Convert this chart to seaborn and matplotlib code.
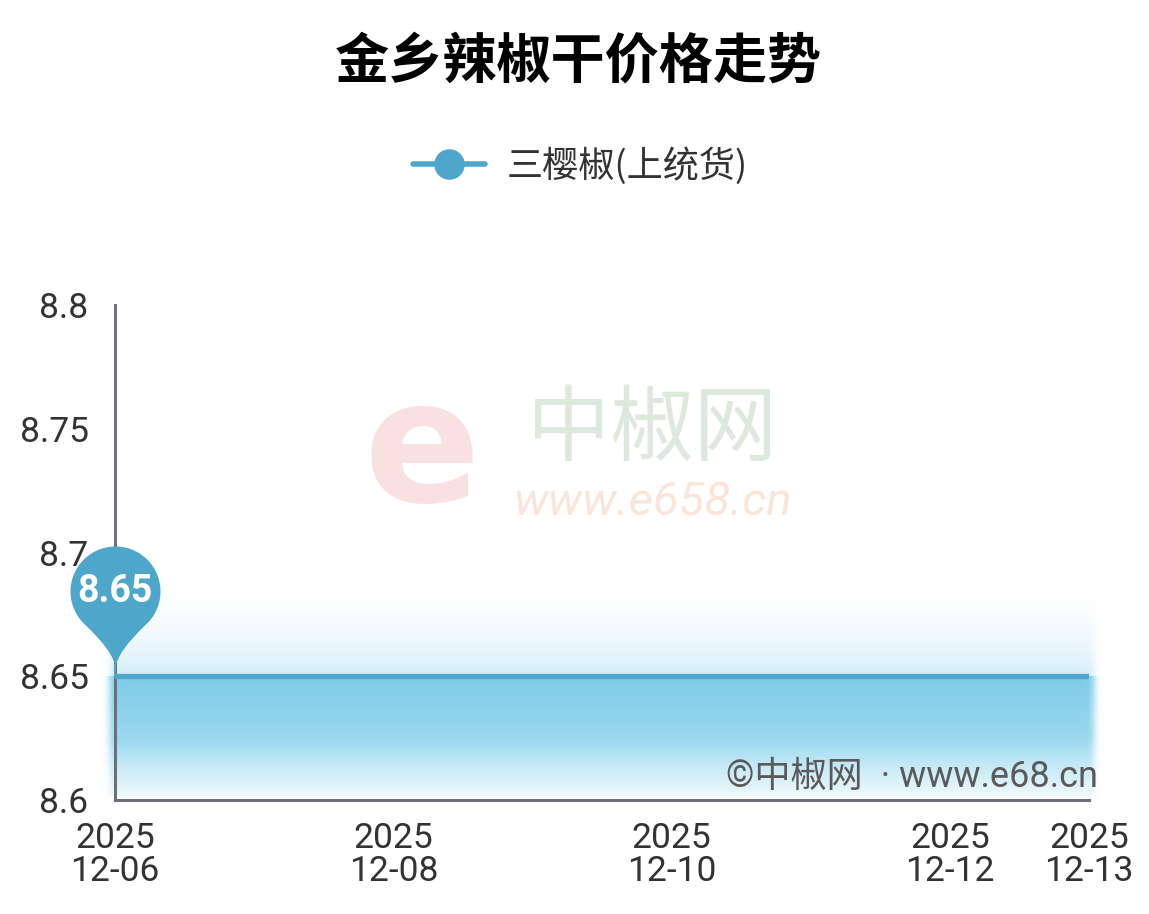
import numpy as np
import pandas as pd
import matplotlib
matplotlib.use("Agg")
import matplotlib.pyplot as plt
import matplotlib.dates as mdates
from matplotlib.path import Path
from matplotlib.lines import Line2D
from math import erf
import seaborn as sns

# ---------------- data ----------------
dates = ["2025-12-06", "2025-12-07", "2025-12-08", "2025-12-09",
         "2025-12-10", "2025-12-11", "2025-12-12", "2025-12-13"]
prices = [8.65, 8.65, 8.65, 8.65, 8.65, 8.65, 8.65, 8.65]
series_name = "三樱椒(上统货)"
title = "金乡辣椒干价格走势"
xtick_dates = ["2025-12-06", "2025-12-08", "2025-12-10", "2025-12-12", "2025-12-13"]
xtick_labels = ["2025\n12-06", "2025\n12-08", "2025\n12-10", "2025\n12-12", "2025\n12-13"]
ytick_values = [8.6, 8.65, 8.7, 8.75, 8.8]
ytick_labels = ["8.6", "8.65", "8.7", "8.75", "8.8"]

sns.set_theme(style="white")
plt.rcParams['font.family'] = ['Roboto', 'Noto Sans CJK SC', 'DejaVu Sans']

LINE_C = "#4ea6cb"
AXIS_C = "#6e7079"
TEXT_C = "#333333"

df = pd.DataFrame({"date": pd.to_datetime(dates), "price": prices})

fig = plt.figure(figsize=(11.49, 9.14), dpi=100)
ax = fig.add_axes([115/1149, 1-800/914, (1089-115)/1149, (800-305)/914])

ax.set_ylim(8.6, 8.8)
x0 = mdates.date2num(df["date"].iloc[0])
x1 = mdates.date2num(df["date"].iloc[-1])
ax.set_xlim(x0, x1)

# ---- gradient / glow area under the line ----
px_per_day = 974 / (x1 - x0)
px_per_unit = 495 / 0.2
ext_x0 = x0 - 14 / px_per_day
ext_x1 = x1 + 14 / px_per_day
ytop = 8.65 + 95 / px_per_unit
nx, ny = 700, 300
xs = np.linspace(ext_x0, ext_x1, nx)
ys = np.linspace(ytop, 8.6, ny)
line_y = df["price"].iloc[0]
d = (line_y - ys) * px_per_unit  # px below line (positive downward)
above = np.clip(1 + d / 90.0, 0, 1)
a_above = 0.32 * above ** 1.8
bot_d = (ys - 8.6) * px_per_unit  # px above the bottom
fade_bot = np.clip(bot_d / 60.0, 0, 1) ** 0.9
a_below = (0.97 - 0.25 * np.clip(d / 125.0, 0, 1)) * (0.15 + 0.85 * fade_bot)
a_below = np.where(bot_d < 4, a_below * np.clip(bot_d / 4, 0, 1), a_below)
a_v = np.where(d < 0, a_above, a_below)
# horizontal edges
xpx = (xs - x0) * px_per_day
xpx_r = (x1 - xs) * px_per_day
verf = np.vectorize(erf)
a_h = 0.5 * (1 + verf((xpx + 6) / 5.0)) * 0.5 * (1 + verf((xpx_r + 5) / 5.0))
alpha = np.outer(a_v, a_h)
top_rgb = np.array([0.47, 0.79, 0.91])
bot_rgb = np.array([0.60, 0.85, 0.94])
t = np.clip(d / 125.0, 0, 1)[:, None]
rgb = top_rgb * (1 - t) + bot_rgb * t
img = np.zeros((ny, nx, 4))
img[..., :3] = rgb[:, None, :] * np.ones((1, nx, 1))
img[..., 3] = alpha
ax.imshow(img, extent=[ext_x0, ext_x1, 8.6, ytop], aspect="auto",
          origin="upper", zorder=1, clip_on=False, interpolation="bilinear")

# ---- line ----
sns.lineplot(data=df, x="date", y="price", ax=ax, color=LINE_C,
             linewidth=3.8, zorder=3, legend=False)
ax.set_xlim(x0, x1)
ax.set_ylim(8.6, 8.8)

# ---- pin marker ----
R = 45.0
cy = 76.0
verts = []
codes = []
left_pt = (R * np.cos(np.deg2rad(228)), cy + R * np.sin(np.deg2rad(228)))
verts.append((0, 0)); codes.append(Path.MOVETO)
verts.append((-2, 16)); codes.append(Path.CURVE3)
verts.append(left_pt); codes.append(Path.CURVE3)
for a in np.linspace(np.deg2rad(228), np.deg2rad(-48), 90)[1:]:
    verts.append((R * np.cos(a), cy + R * np.sin(a))); codes.append(Path.LINETO)
verts.append((2, 16)); codes.append(Path.CURVE3)
verts.append((0, 0)); codes.append(Path.CURVE3)
verts.append((0, 0)); codes.append(Path.CLOSEPOLY)
pin = Path(np.array(verts), codes)
rescale = cy + R
ms = 2 * rescale * 72 / 100
tip_y = line_y + 9 / px_per_unit
ax.plot([df["date"].iloc[0]], [tip_y], marker=pin,
        markersize=ms, color=LINE_C, markeredgewidth=0, linestyle="none",
        zorder=6, clip_on=False)
ax.plot([df["date"].iloc[0], df["date"].iloc[0]],
        [line_y, tip_y + 2 / px_per_unit], color=LINE_C, lw=1.5,
        zorder=6, clip_on=False)
ax.annotate(f"{prices[0]:.2f}", xy=(df["date"].iloc[0], tip_y),
            xytext=(0, cy * 0.72), textcoords="offset points",
            ha="center", va="center", color="white", fontsize=27,
            fontweight="bold", zorder=7, annotation_clip=False)

# ---- axes styling ----
for s in ["top", "right"]:
    ax.spines[s].set_visible(False)
for s in ["left", "bottom"]:
    ax.spines[s].set_color(AXIS_C)
    ax.spines[s].set_linewidth(2.2)
ax.set_yticks(ytick_values)
ax.set_yticklabels(ytick_labels)
ax.set_xticks(pd.to_datetime(xtick_dates))
ax.set_xticklabels(xtick_labels, linespacing=1.0)
ax.tick_params(axis="y", length=13, width=2.2, color=AXIS_C, pad=6,
               labelsize=25.5, labelcolor=TEXT_C)
ax.tick_params(axis="x", length=11, width=2.2, color=AXIS_C, pad=5,
               labelsize=25.5, labelcolor=TEXT_C)
ax.set_xlabel("")
ax.set_ylabel("")

# ---- watermark ----
fig.text(422 / 1149, 1 - 455 / 914, "e", fontsize=124, fontweight="bold",
         color="#f9e1e1", ha="center", va="center", family="DejaVu Sans",
         zorder=0)
fig.text(652 / 1149, 1 - 430 / 914, "中椒网", fontsize=60, fontweight="medium",
         color="#dde9dc", ha="center", va="center",
         family=["Noto Sans CJK SC"], zorder=0)
fig.text(652 / 1149, 1 - 502 / 914, "www.e658.cn", fontsize=34,
         style="italic", color="#fbe4d8", ha="center", va="center", zorder=0)

# ---- credit ----
fig.text(1098 / 1149, 1 - 777 / 914, "©中椒网  · www.e68.cn", fontsize=26,
         color="#5a5a5a", ha="right", va="center", zorder=8,
         family=["Roboto", "Noto Sans CJK SC", "DejaVu Sans"])

# ---- title ----
fig.text(0.503, 1 - 62 / 914, title, fontsize=39, fontweight=900,
         color="#000000", ha="center", va="center",
         family=["Noto Sans CJK SC"])

# ---- legend ----
handle = Line2D([0], [0], color=LINE_C, lw=4, marker="o", markersize=22,
                markerfacecolor=LINE_C, markeredgewidth=0)
leg = fig.legend([handle], [series_name], loc="center",
                 bbox_to_anchor=(0.505, 1 - 166 / 914), frameon=False,
                 handlelength=2.0, handletextpad=0.6,
                 prop={"family": ["Noto Sans CJK SC"], "size": 26})
for txt in leg.get_texts():
    txt.set_color(TEXT_C)

fig.savefig("out.png", dpi=100)
